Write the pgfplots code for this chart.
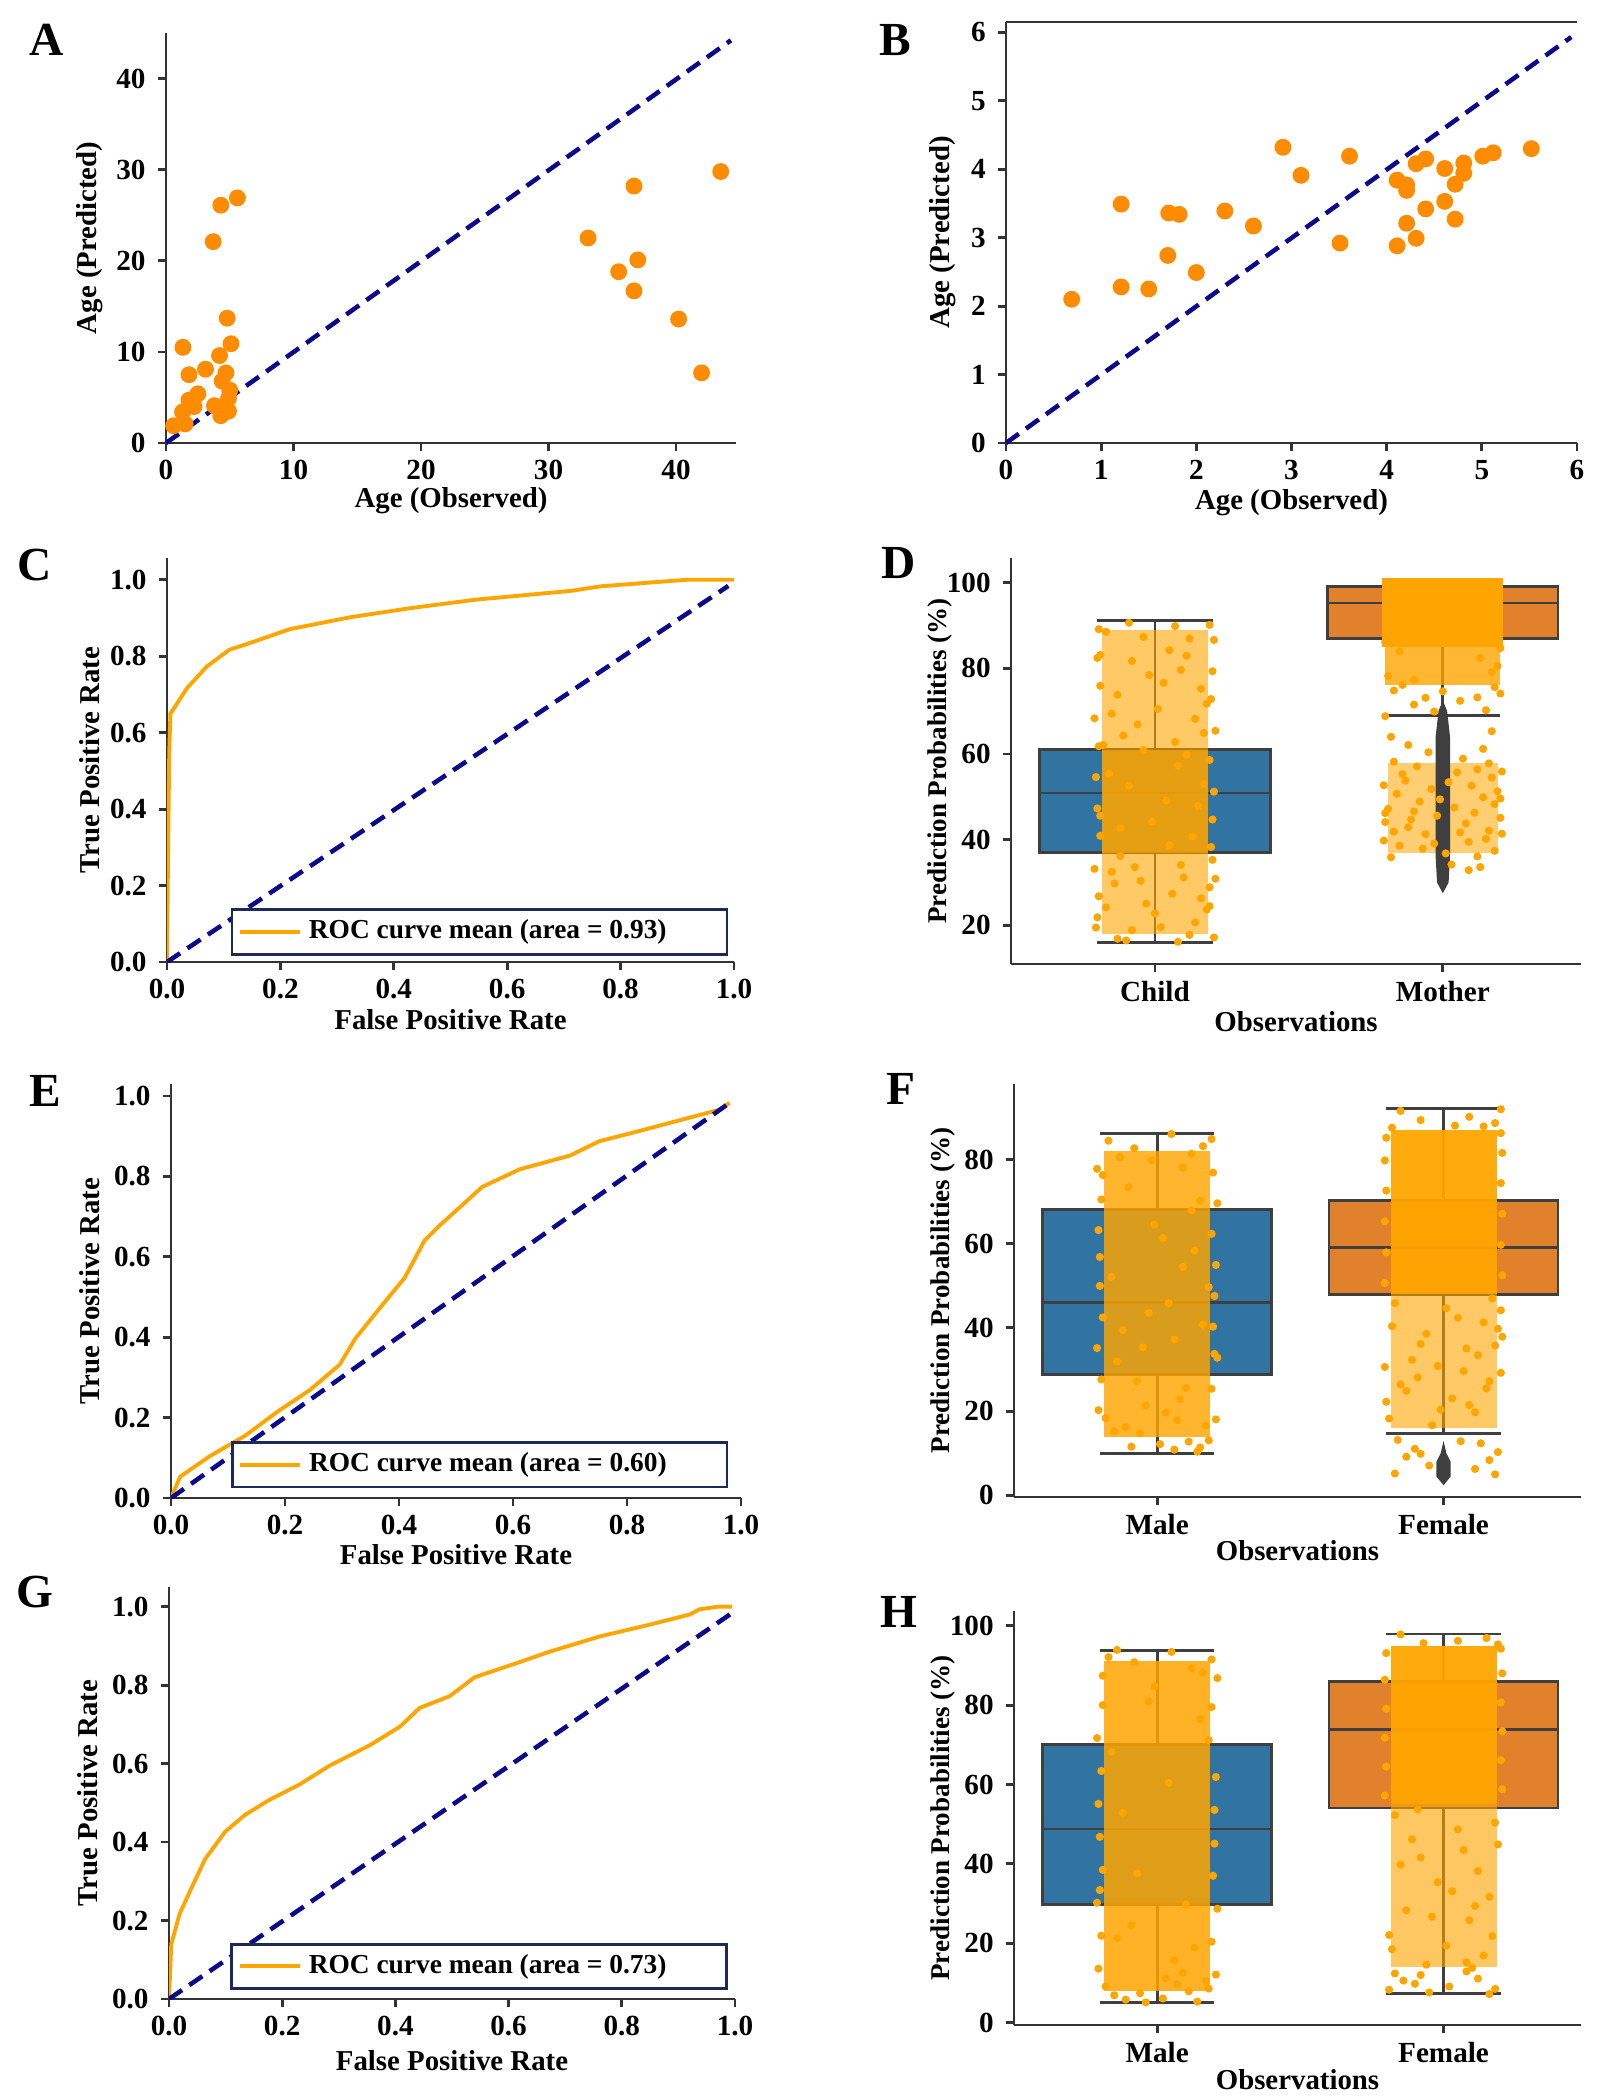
\documentclass[border=0pt]{standalone}
\usepackage{fontspec}
\setmainfont{Liberation Serif}
\usepackage{pgfplots}
\pgfplotsset{compat=1.18}
\usepgfplotslibrary{statistics}

\definecolor{sbblue}{HTML}{3274A1}
\definecolor{sborange}{HTML}{E1812C}
\definecolor{dotorange}{HTML}{FFA500}
\definecolor{scatorange}{HTML}{FF8C00}
\definecolor{diagnavy}{HTML}{0A0A8A}
\definecolor{boxgray}{HTML}{3F3F3F}
\definecolor{spine}{HTML}{333333}
\definecolor{legnavy}{HTML}{1C2A5A}

\newcommand\tk{\bfseries\fontsize{8.3}{10}\selectfont}
\newcommand\lb{\bfseries\fontsize{8.2}{10}\selectfont}
\newcommand\lbs{\bfseries\fontsize{7.7}{9}\selectfont}
\newcommand\lt{\bfseries\fontsize{13.5}{15}\selectfont}

\pgfplotsset{
  panel/.style={scale only axis, axis x line*=bottom, axis y line*=left,
    axis line style={line width=0.8pt, draw=spine},
    tick style={line width=0.8pt, draw=spine},
    tick align=outside, major tick length=0.8mm,
    tick label style={font=\tk}, label style={font=\lb},
    xticklabel style={yshift=0.3mm},
    /pgf/number format/assume math mode=true},
  diag/.style={diagnavy, line width=1.3pt, dash pattern=on 4.5pt off 2.5pt, forget plot},
  scat/.style={only marks, mark=*, mark size=2.2pt, color=scatorange, mark options={fill=scatorange, draw=scatorange}},
  roc/.style={panel, xmin=0, xmax=1, ymin=0,
    xtick={0,0.2,0.4,0.6,0.8,1}, ytick={0,0.2,0.4,0.6,0.8,1},
    xticklabel style={/pgf/number format/.cd, fixed, fixed zerofill, precision=1},
    yticklabel style={/pgf/number format/.cd, fixed, fixed zerofill, precision=1},
    xlabel={False Positive Rate}, ylabel={True Positive Rate},
    legend cell align=left,
    legend style={anchor=south east, draw=legnavy, line width=0.8pt,
      font=\bfseries\fontsize{7.8}{9}\selectfont, inner xsep=0.6mm, inner ysep=0.3mm}},
  rocline/.style={dotorange, line width=1.1pt},
  strip/.style={panel, xmin=-0.5, xmax=1.48, xtick={0,1}, boxplot/draw direction=y,
    xlabel={Observations}, ylabel={Prediction Probabilities (\%)}, ylabel style={font=\lbs}},
  bx/.style={draw=boxgray, line width=0.8pt, solid},
  dots/.style={only marks, mark=*, mark size=0.95pt, color=dotorange, mark options={fill=dotorange, draw=dotorange}},
  cloud/.style={draw=none, fill=dotorange, fill opacity=#1},
}

\begin{document}
\begin{tikzpicture}
\useasboundingbox (0,0) rectangle (161mm,-210mm);

% ---------- A ----------
\begin{axis}[panel, at={(16.6mm,-44.3mm)}, anchor=south west, width=57mm, height=41mm,
  xmin=0, xmax=44.7, ymin=0, ymax=45, xtick={0,10,20,30,40}, ytick={0,10,20,30,40}, clip=false,
  xlabel={Age (Observed)}, ylabel={Age (Predicted)},
  xlabel style={at={(axis description cs:0.5,-0.1415)}, anchor=center},
  ylabel style={at={(axis description cs:-0.1333,0.5)}, anchor=center}]
\addplot[scat] coordinates {
(1.33,10.5) (4.3,26.1) (5.6,26.9) (3.7,22.1) (4.8,13.7) (5.1,10.9) (4.2,9.6) (1.8,7.5)
(3.1,8.1) (4.7,7.7) (4.4,6.8) (2.5,5.4) (1.8,4.7) (5.0,5.8) (4.9,4.9) (3.8,4.1)
(1.3,3.4) (4.9,3.5) (4.3,3.0) (0.6,1.9) (1.5,2.1) (2.2,4.0)
(33.1,22.5) (36.7,28.2) (43.5,29.8) (35.5,18.8) (37.0,20.1) (36.7,16.7) (40.2,13.6) (42.0,7.7)};
\addplot[diag] coordinates {(0,0) (44.3,44.2)};
\end{axis}

% ---------- B ----------
\begin{axis}[panel, at={(100.6mm,-44.3mm)}, anchor=south west, width=57.1mm, height=42.1mm,
  xmin=0, xmax=6, ymin=0, ymax=6.15, xtick={0,...,6}, ytick={0,...,6}, clip=false,
  xlabel={Age (Observed)}, ylabel={Age (Predicted)},
  xlabel style={at={(axis description cs:0.5,-0.1425)}, anchor=center},
  ylabel style={at={(axis description cs:-0.1103,0.5)}, anchor=center}]
\addplot[scat] coordinates {
(0.69,2.10) (1.21,3.49) (1.21,2.28) (1.50,2.25) (1.70,2.74) (1.71,3.36) (1.82,3.34) (2.0,2.49)
(2.30,3.39) (2.60,3.17) (2.91,4.32) (3.10,3.91) (3.51,2.92) (3.61,4.19) (4.11,3.84) (4.11,2.88)
(4.21,3.77) (4.21,3.69) (4.21,3.21) (4.31,4.08) (4.31,2.99) (4.41,4.15) (4.41,3.42) (4.61,4.01)
(4.61,3.53) (4.72,3.78) (4.72,3.27) (4.81,4.09) (4.81,3.94) (5.01,4.19) (5.12,4.24) (5.52,4.30)};
\addplot[diag] coordinates {(0,0) (5.94,5.93)};
\draw[spine, line width=0.8pt] (rel axis cs:0,1) -- (rel axis cs:1,1);
\end{axis}

% ---------- C ----------
\begin{axis}[roc, at={(16.7mm,-96.2mm)}, anchor=south west, width=56.7mm, height=40.4mm, ymax=1.057,
  xlabel style={at={(axis description cs:0.5,-0.1436)}, anchor=center},
  ylabel style={at={(axis description cs:-0.1358,0.5)}, anchor=center},
  legend style={at={(0.99,0.016)}}]
\addplot[rocline] coordinates {(0,0) (0.002,0.3) (0.004,0.55) (0.006,0.65) (0.015,0.67) (0.035,0.716)
(0.07,0.773) (0.11,0.817) (0.137,0.83) (0.217,0.871) (0.323,0.902) (0.43,0.926) (0.544,0.948)
(0.712,0.971) (0.765,0.983) (0.88,0.996) (0.916,1.0) (1.0,1.0)};
\addlegendentry{\makebox[40.5mm][l]{ROC curve mean (area = 0.93)}}
\addplot[diag] coordinates {(0,0) (0.99,0.984)};
\end{axis}

% ---------- D ----------
\begin{axis}[strip, at={(101.1mm,-96.4mm)}, anchor=south west, width=57mm, height=40.6mm,
  ymin=11, ymax=105.7, ytick={20,40,60,80,100}, xticklabels={Child,Mother},
  xlabel style={at={(axis description cs:0.5,-0.1429)}, anchor=center},
  ylabel style={at={(axis description cs:-0.1246,0.5)}, anchor=center}]
\addplot[bx, fill=sbblue, boxplot prepared={lower whisker=16.1, lower quartile=37.0, median=50.9,
  upper quartile=61.1, upper whisker=91.1, draw position=0, box extend=0.8, whisker extend=0.4}] coordinates {};
\addplot[bx, fill=sborange, boxplot prepared={lower whisker=69.0, lower quartile=86.9, median=95.2,
  upper quartile=99.1, upper whisker=99.1, draw position=1, box extend=0.8, whisker extend=0.4}] coordinates {};
\addplot[cloud=0.6] coordinates {(-0.185,18) (0.185,18) (0.185,89) (-0.185,89)} -- cycle;
\addplot[cloud=0.7] coordinates {(-0.185,37) (0.185,37) (0.185,61) (-0.185,61)} -- cycle;
\addplot[dots] coordinates {
(-0.17,88.5) (0.05,84.2) (0.19,90.1) (-0.08,81.7) (0.12,86.9) (-0.02,78.4) (0.16,75.2) (-0.13,73.8)
(0.09,79.6) (-0.19,83.1) (0.01,70.5) (0.14,68.2) (-0.06,66.9) (0.18,71.7) (-0.11,64.3) (0.07,62.8)
(-0.15,69.4) (0.03,76.6) (0.11,82.9) (-0.04,87.3) (0.17,64.9) (-0.18,62.1) (0.08,57.3) (-0.09,52.6)
(0.15,47.9) (-0.01,44.2) (0.13,40.8) (-0.16,55.4) (0.04,49.1) (-0.12,42.7) (0.2,35.3) (-0.07,33.6)
(0.1,31.2) (-0.14,29.8) (0.06,27.4) (-0.03,25.1) (0.18,23.7) (-0.2,21.9) (0.02,19.6) (0.12,17.8)
(-0.1,16.5) (0.16,26.3) (-0.05,30.4) (0.09,34.1) (-0.17,24.2) (0.14,20.7) (-0.12,36.2) (0.0,22.8)
(0.19,28.9) (-0.08,18.9) (-0.15,32.5) (0.05,38.7) (-0.19,45.6) (0.11,59.8) (-0.04,60.9) (0.17,53.1)
(-0.205,19.5) (-0.195,26.8) (-0.21,33.2) (-0.19,40.9) (-0.2,47.3) (-0.205,54.6) (-0.195,61.8)
(-0.21,68.3) (-0.19,75.9) (-0.2,82.4) (-0.195,89.1) (0.205,17.2) (0.19,24.5) (0.21,30.9)
(0.195,38.3) (0.2,44.7) (0.205,51.2) (0.19,58.6) (0.21,65.4) (0.195,72.8) (0.2,79.3) (0.205,86.6)
(-0.09,90.6) (0.07,89.8) (-0.13,16.9) (0.08,16.2)};
\addplot[cloud=1] coordinates {(0.79,85) (1.21,85) (1.21,101) (0.79,101)} -- cycle;
\addplot[cloud=0.8] coordinates {(0.8,76) (1.2,76) (1.2,85) (0.8,85)} -- cycle;
\addplot[cloud=0.55] coordinates {(0.81,37) (1.19,37) (1.19,58) (0.81,58)} -- cycle;
\addplot[dots] coordinates {
(0.83,74.8) (1.12,73.2) (0.9,71.5) (1.18,75.6) (0.97,69.9) (1.06,72.4) (0.8,68.8) (1.15,70.2)
(0.86,76.1) (1.2,74.1) (1.17,65.3) (0.88,62.1) (0.82,64.0)
(0.83,58.2) (1.05,55.7) (1.19,51.3) (0.92,48.9) (1.12,56.4) (0.98,45.6) (1.16,42.1) (0.87,53.8)
(1.09,39.5) (0.81,47.2) (1.01,36.8) (1.14,49.9) (0.94,41.3) (1.18,37.4) (0.89,44.7) (1.07,58.9)
(0.85,38.6) (1.03,34.2) (1.11,46.3) (0.96,51.8) (1.17,54.5) (0.82,35.9) (1.08,43.8) (0.91,57.1)
(1.15,40.2) (0.99,49.4) (1.13,33.6) (0.84,50.7) (1.04,47.5) (0.88,42.9) (1.2,45.1) (0.93,37.9)
(1.1,52.6) (0.86,55.3) (1.06,41.7) (0.97,39.1) (1.18,48.3) (0.8,44.1) (1.02,53.4) (1.12,36.1)
(0.9,46.6) (1.16,57.8) (0.95,60.4) (1.09,32.9) (0.83,41.9) (1.14,61.2)
(0.81,78.2) (1.19,80.5) (0.85,83.9) (1.17,79.1) (0.9,77.3) (1.13,82.4) (0.8,86.1) (1.2,84.7)
(0.795,39.8) (0.8,46.2) (0.795,52.7) (1.205,41.4) (1.2,49.6) (1.205,55.9) (1.0,74.6) (0.94,73.1)};
\addplot[draw=none, fill=boxgray] coordinates {(1,27.5) (1.02,30) (1.025,36) (1.025,64) (1.015,70)
(1,72.5) (0.985,70) (0.975,64) (0.975,36) (0.98,30)} -- cycle;
\end{axis}

% ---------- E ----------
\begin{axis}[roc, at={(17.1mm,-149.8mm)}, anchor=south west, width=57mm, height=41.4mm, ymax=1.03,
  xlabel style={at={(axis description cs:0.5,-0.1377)}, anchor=center},
  ylabel style={at={(axis description cs:-0.1421,0.5)}, anchor=center},
  legend style={at={(0.978,0.0233)}}]
\addplot[rocline] coordinates {(0,0) (0.016,0.053) (0.068,0.104) (0.13,0.155) (0.19,0.218)
(0.244,0.269) (0.296,0.332) (0.323,0.396) (0.366,0.472) (0.41,0.548) (0.445,0.641) (0.472,0.679)
(0.515,0.734) (0.546,0.774) (0.612,0.818) (0.70,0.852) (0.752,0.888) (0.805,0.907) (0.962,0.966) (0.98,0.983)};
\addlegendentry{\makebox[40.5mm][l]{ROC curve mean (area = 0.60)}}
\addplot[diag] coordinates {(0,0) (0.98,0.983)};
\end{axis}

% ---------- F ----------
\begin{axis}[strip, at={(101.4mm,-149.7mm)}, anchor=south west, width=56.7mm, height=41.3mm,
  ymin=-0.4, ymax=98, ytick={0,20,40,60,80}, xticklabels={Male,Female},
  xlabel style={at={(axis description cs:0.5,-0.1308)}, anchor=center},
  ylabel style={at={(axis description cs:-0.1252,0.5)}, anchor=center}]
\addplot[bx, fill=sbblue, boxplot prepared={lower whisker=9.9, lower quartile=28.7, median=46.0,
  upper quartile=68.2, upper whisker=86.2, draw position=0, box extend=0.8, whisker extend=0.4}] coordinates {};
\addplot[bx, fill=sborange, boxplot prepared={lower whisker=14.7, lower quartile=47.9, median=59.1,
  upper quartile=70.2, upper whisker=92.1, draw position=1, box extend=0.8, whisker extend=0.4}] coordinates {};
\addplot[cloud=0.82] coordinates {(-0.185,14) (0.185,14) (0.185,82) (-0.185,82)} -- cycle;
\addplot[dots] coordinates {
(-0.17,84.5) (0.05,86.1) (0.19,84.9) (-0.08,82.7) (0.12,81.4) (-0.02,79.8) (0.16,83.2) (-0.13,80.6)
(0.09,78.1) (-0.19,76.3) (0.01,12.2) (0.14,10.4) (-0.06,14.8) (0.18,13.1) (-0.11,16.2) (0.07,17.9)
(-0.15,15.3) (0.03,19.7) (0.11,12.8) (-0.04,21.4) (0.17,16.6) (-0.18,18.4) (0.08,22.9)
(0.15,70.2) (-0.01,64.5) (0.13,58.3) (-0.16,52.1) (0.04,45.8) (-0.12,39.4) (0.2,33.7) (-0.07,27.2)
(0.1,25.6) (-0.14,31.9) (0.06,37.1) (-0.03,43.5) (0.18,49.6) (-0.2,56.8) (0.02,61.3) (0.12,67.9)
(-0.1,73.4) (0.16,40.7) (-0.05,35.2) (0.09,54.4)
(-0.205,20.3) (-0.195,27.6) (-0.21,35.1) (-0.19,42.4) (-0.2,49.9) (-0.205,63.2) (-0.195,70.5)
(-0.21,77.8) (0.205,18.1) (0.19,25.4) (0.21,32.8) (0.195,40.2) (0.2,47.5) (0.205,54.9)
(0.19,62.3) (0.21,69.6) (0.195,76.9) (0.06,10.9) (-0.09,11.6) (0.15,11.4)};
\addplot[cloud=0.95] coordinates {(0.815,48) (1.185,48) (1.185,87) (0.815,87)} -- cycle;
\addplot[cloud=0.6] coordinates {(0.815,16) (1.185,16) (1.185,48) (0.815,48)} -- cycle;
\addplot[dots] coordinates {
(0.85,91.6) (1.09,90.2) (1.18,88.7) (0.92,89.4) (1.04,88.1) (0.82,87.6) (1.14,87.9) (1.2,92.0)
(0.83,45.8) (1.05,42.3) (1.19,39.7) (0.92,36.1) (1.12,33.4) (0.98,30.8) (1.16,27.2) (0.87,24.9)
(1.09,21.5) (0.81,18.3) (1.01,44.6) (1.14,41.2) (0.94,38.5) (1.18,35.7) (0.89,32.3) (1.07,29.6)
(0.85,26.4) (1.03,23.1) (1.11,19.8) (0.96,16.7) (1.17,46.9) (0.82,40.3) (1.08,35.0) (0.91,28.1)
(1.15,25.5) (0.99,20.4)
(0.84,13.2) (1.13,12.4) (0.9,11.1) (1.19,10.3) (0.87,9.2) (1.16,8.4) (0.95,7.1) (1.11,6.3)
(0.83,5.2) (1.18,5.0) (1.06,12.9) (0.92,9.9)
(0.795,50.6) (0.8,57.9) (0.795,65.3) (0.8,72.6) (0.795,79.8) (0.8,85.2)
(1.205,52.4) (1.2,59.7) (1.205,67.1) (1.2,74.4) (1.205,81.6) (1.2,86.3)
(0.8,22.3) (0.795,30.6) (1.2,29.2) (1.205,37.8) (1.2,44.1)};
\addplot[draw=none, fill=boxgray] coordinates {(1,2.4) (1.025,4.5) (1.025,8) (1.01,10) (1,13)
(0.99,10) (0.975,8) (0.975,4.5)} -- cycle;
\end{axis}

% ---------- G ----------
\begin{axis}[roc, at={(16.9mm,-199.9mm)}, anchor=south west, width=56.6mm, height=41.2mm, ymax=1.05,
  xlabel style={at={(axis description cs:0.5,-0.1505)}, anchor=center},
  ylabel style={at={(axis description cs:-0.1431,0.5)}, anchor=center},
  legend style={at={(0.988,0.0219)}}]
\addplot[rocline] coordinates {(0,0) (0.004,0.14) (0.019,0.218) (0.041,0.287) (0.064,0.357)
(0.099,0.426) (0.134,0.469) (0.178,0.508) (0.231,0.547) (0.284,0.595) (0.355,0.647) (0.408,0.694)
(0.443,0.742) (0.496,0.772) (0.540,0.820) (0.62,0.859) (0.672,0.885) (0.761,0.924) (0.849,0.954)
(0.92,0.98) (0.937,0.993) (0.97,1.0) (0.995,1.0)};
\addlegendentry{\makebox[40.5mm][l]{ROC curve mean (area = 0.73)}}
\addplot[diag] coordinates {(0,0) (0.995,0.984)};
\end{axis}

% ---------- H ----------
\begin{axis}[strip, at={(101.4mm,-202.5mm)}, anchor=south west, width=56.7mm, height=41.4mm,
  ymin=-0.6, ymax=103.7, ytick={0,20,40,60,80,100}, xticklabels={Male,Female},
  xlabel style={at={(axis description cs:0.5,-0.1329)}, anchor=center},
  ylabel style={at={(axis description cs:-0.1252,0.5)}, anchor=center}]
\addplot[bx, fill=sbblue, boxplot prepared={lower whisker=5.1, lower quartile=29.7, median=48.8,
  upper quartile=70.1, upper whisker=93.7, draw position=0, box extend=0.8, whisker extend=0.4}] coordinates {};
\addplot[bx, fill=sborange, boxplot prepared={lower whisker=7.3, lower quartile=54.1, median=73.8,
  upper quartile=85.9, upper whisker=97.9, draw position=1, box extend=0.8, whisker extend=0.4}] coordinates {};
\addplot[cloud=0.85] coordinates {(-0.185,8) (0.185,8) (0.185,91) (-0.185,91)} -- cycle;
\addplot[dots] coordinates {
(-0.17,92.1) (0.05,93.4) (0.19,91.5) (-0.08,90.8) (0.12,89.3) (-0.14,93.9) (0.16,88.2) (-0.19,87.4)
(0.02,6.1) (0.14,5.3) (-0.06,7.4) (0.18,8.6) (-0.11,5.8) (0.07,9.7) (-0.15,6.9) (0.03,11.2)
(0.11,7.9) (-0.04,5.1) (0.17,10.5) (-0.18,9.1) (0.09,12.6) (-0.01,84.7)
(0.15,76.5) (-0.16,68.2) (0.04,60.4) (-0.12,52.9) (0.2,45.1) (-0.07,37.6) (0.1,29.8) (-0.14,21.3)
(0.06,15.7) (-0.03,80.9) (0.18,71.2) (-0.2,33.4) (0.13,18.9) (-0.09,24.5)
(-0.205,13.6) (-0.195,21.9) (-0.21,30.2) (-0.19,38.5) (-0.2,46.8) (-0.205,55.1) (-0.195,63.4)
(-0.21,71.7) (-0.19,80.0) (0.205,12.1) (0.19,20.4) (0.21,28.7) (0.195,37.0) (0.2,53.6)
(0.205,61.9) (0.19,79.5) (0.21,86.8)};
\addplot[cloud=0.95] coordinates {(0.815,55) (1.185,55) (1.185,95) (0.815,95)} -- cycle;
\addplot[cloud=0.62] coordinates {(0.815,14) (1.185,14) (1.185,55) (0.815,55)} -- cycle;
\addplot[dots] coordinates {
(0.85,97.8) (1.15,96.9) (0.93,95.6) (1.05,96.2) (1.19,95.3)
(0.83,12.4) (1.12,11.1) (0.9,9.8) (1.18,8.5) (0.95,7.6) (1.08,12.9) (0.86,10.6) (1.16,7.2)
(1.02,9.1) (0.81,8.3) (1.1,13.8) (0.92,12.0)
(0.83,52.3) (1.05,48.7) (1.19,44.9) (0.92,41.6) (1.12,38.2) (0.98,35.4) (1.16,31.7) (0.87,28.3)
(1.09,25.8) (0.81,22.1) (1.01,19.4) (1.14,16.9) (0.94,14.6) (1.18,50.4) (0.89,46.2) (1.07,43.5)
(0.85,39.8) (1.03,33.1) (1.11,29.4) (0.96,26.7) (1.17,21.8) (0.82,18.5) (1.08,15.2) (0.91,53.7)
(0.795,57.2) (0.8,64.5) (0.795,71.8) (0.8,79.1) (0.795,86.4) (0.8,93.1)
(1.205,58.8) (1.2,66.1) (1.205,73.4) (1.2,80.7) (1.205,88.0) (1.2,94.2)};
\end{axis}

\node[font=\lt] at (4.7mm,-4.0mm) {A};
\node[font=\lt] at (89.5mm,-4.0mm) {B};
\node[font=\lt] at (3.5mm,-56.5mm) {C};
\node[font=\lt] at (89.9mm,-56.3mm) {D};
\node[font=\lt] at (4.5mm,-109.1mm) {E};
\node[font=\lt] at (90.1mm,-108.9mm) {F};
\node[font=\lt] at (3.5mm,-159.2mm) {G};
\node[font=\lt] at (89.9mm,-161.2mm) {H};
\end{tikzpicture}
\end{document}
